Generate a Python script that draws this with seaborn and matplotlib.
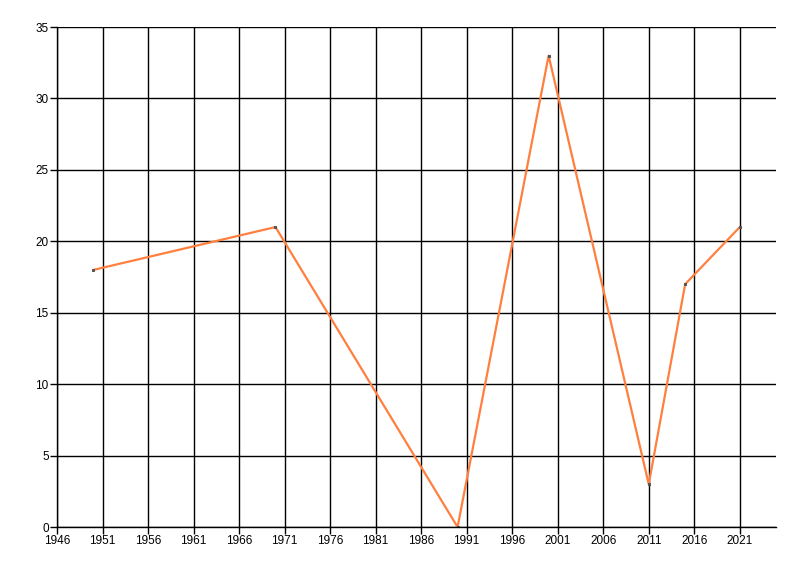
import pandas as pd
import matplotlib
matplotlib.use("Agg")
import matplotlib.pyplot as plt
import seaborn as sns

# values
years = [1950, 1970, 1990, 2000, 2011, 2015, 2021]
values = [18, 21, 0, 33, 3, 17, 21]
x_ticks = list(range(1946, 2022, 5))
y_ticks = list(range(0, 36, 5))

df = pd.DataFrame({"year": years, "value": values})

sns.set_style("white")
plt.rcParams["font.family"] = ["Liberation Sans", "DejaVu Sans"]

fig = plt.figure(figsize=(8, 5.76), dpi=100)
ax = fig.add_axes([0.07125, 0.085, 0.899, 0.868])

sns.lineplot(data=df, x="year", y="value", color="#FF7F3F", linewidth=1.6,
             marker="s", markersize=2, markerfacecolor="#555555",
             markeredgecolor="#555555", ax=ax)

ax.set_xlim(1946, 2025)
ax.set_ylim(0, 35)
ax.set_xticks(x_ticks)
ax.set_yticks(y_ticks)
ax.set_xticklabels([str(t) for t in x_ticks], fontsize=8.5)
ax.set_yticklabels([str(t) for t in y_ticks], fontsize=8.5)
ax.grid(True, color="black", linewidth=1)
ax.set_axisbelow(True)
ax.tick_params(axis="both", direction="out", length=5, width=1, color="black",
               labelcolor="black", pad=1, bottom=True, left=True)
for side in ["top", "right"]:
    ax.spines[side].set_visible(False)
for side in ["left", "bottom"]:
    ax.spines[side].set_color("black")
    ax.spines[side].set_linewidth(1)
ax.set_xlabel("")
ax.set_ylabel("")

fig.savefig("out.png", dpi=100)
